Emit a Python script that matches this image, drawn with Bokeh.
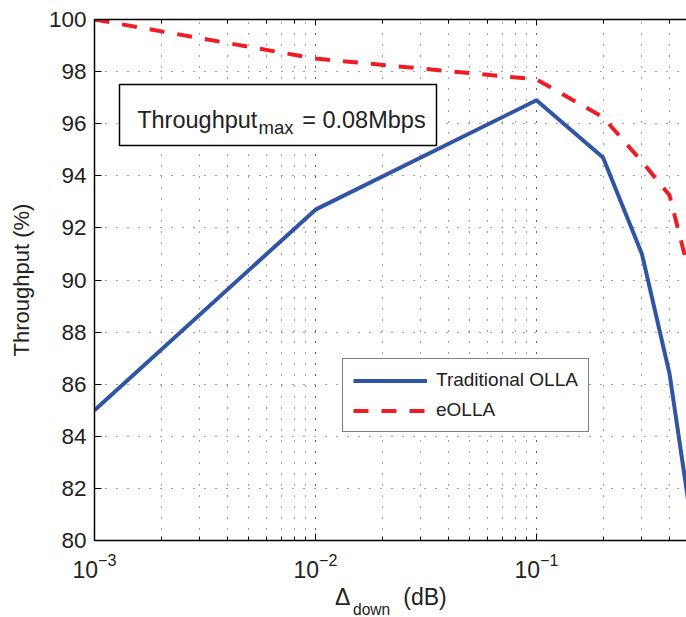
from bokeh.plotting import figure
from bokeh.layouts import column
from bokeh.models import (LogAxis, Range1d, Legend, LegendItem, Label, BoxAnnotation,
                          FixedTicker, LogTicker, CustomJSTickFormatter, Div)
from bokeh.embed import file_html
from bokeh.resources import INLINE

# ---- data ----
delta_down = [0.001, 0.01, 0.1, 0.2, 0.3, 0.4, 0.5]
traditional_olla = [85.0, 92.7, 96.9, 94.7, 91.0, 86.4, 80.8]
eolla = [100.0, 98.5, 97.7, 96.25, 94.55, 93.25, 90.0]
y_ticks = [80, 82, 84, 86, 88, 90, 92, 94, 96, 98, 100]
x_title_parts = ["\u0394", "down", "(dB)"]

FONT = "Liberation Sans"
BLUE = "#3155a5"
RED = "#ee1c25"
TXT = "#222222"

p = figure(width=686, height=584, x_axis_type="log",
           x_range=Range1d(0.001, 0.4773), y_range=Range1d(80, 100),
           output_backend="svg", toolbar_location=None,
           min_border_left=94, min_border_right=0, min_border_top=19,
           min_border_bottom=44)
p.outline_line_color = None
p.background_fill_color = "white"
p.border_fill_color = "white"

# grids
p.xgrid.grid_line_color = "#444444"
p.xgrid.grid_line_dash = "1 10"
p.xgrid.grid_line_width = 1
p.xgrid.minor_grid_line_color = "#444444"
p.xgrid.minor_grid_line_dash = "1 10"
p.ygrid.grid_line_color = "#444444"
p.ygrid.grid_line_dash = "1 10"
p.ygrid.ticker = FixedTicker(ticks=y_ticks)

# axes
for ax in [p.xaxis[0], p.yaxis[0]]:
    ax.axis_line_color = "black"
    ax.axis_line_width = 1.5
    ax.major_tick_line_color = "black"
    ax.minor_tick_line_color = "black"
    ax.major_tick_in = 7
    ax.major_tick_out = 0
    ax.minor_tick_in = 4
    ax.minor_tick_out = 0
    ax.major_label_text_font = FONT
    ax.major_label_text_font_size = "22.5px"
    ax.major_label_text_color = TXT

p.yaxis.ticker = FixedTicker(ticks=y_ticks)
p.yaxis.minor_tick_line_color = None
p.yaxis.major_label_standoff = 8
p.yaxis.axis_label = "Throughput (%)"
p.yaxis.axis_label_text_font = FONT
p.yaxis.axis_label_text_font_size = "22px"
p.yaxis.axis_label_text_font_style = "normal"
p.yaxis.axis_label_text_color = TXT
p.yaxis.axis_label_standoff = 12

p.xaxis.major_label_standoff = 12
p.xaxis.major_label_text_font_size = "23px"

top = LogAxis(ticker=LogTicker(), axis_line_color="black", axis_line_width=1.5,
              major_tick_in=6, major_tick_out=0, minor_tick_in=4, minor_tick_out=0,
              formatter=CustomJSTickFormatter(code="return ''"))
p.add_layout(top, "above")

# lines
r1 = p.line(delta_down, traditional_olla, line_color=BLUE, line_width=4,
            line_join="round")
r2 = p.line(delta_down, eolla, line_color=RED, line_width=4,
            line_dash="15 13", line_join="round")

legend = Legend(items=[LegendItem(label="Traditional OLLA", renderers=[r1]),
                       LegendItem(label="eOLLA", renderers=[r2])],
                location=(248, 108), border_line_color="black",
                border_line_width=1.5, background_fill_color="white",
                background_fill_alpha=1, label_text_font=FONT,
                label_text_font_size="19px", label_text_color=TXT,
                glyph_width=74, glyph_height=19, label_height=19,
                label_standoff=9, spacing=8, padding=10, margin=0)
p.add_layout(legend, "center")

# annotation box
box = BoxAnnotation(left=25, right=342, top=456, bottom=395,
                    left_units="screen", right_units="screen",
                    top_units="screen", bottom_units="screen",
                    fill_color="white", fill_alpha=1,
                    line_color="black", line_alpha=1, line_width=1.5)
p.add_layout(box)

def lab(text, x, y, size):
    l = Label(x=x, y=y, x_units="screen", y_units="screen", text=text,
              text_font=FONT, text_font_size=size, text_color=TXT,
              text_align="left", text_baseline="alphabetic")
    p.add_layout(l)

lab("Throughput", 42.7, 420.7, "23.5px")
lab("max", 164, 412.7, "18.5px")
lab("= 0.08Mbps", 207.7, 420.7, "23.5px")

# x axis title (with subscript) in a strip under the plot
span = ("<span style=\"position:absolute;left:{l}px;top:{t}px;font-size:{s}px;"
        "line-height:{s}px;white-space:nowrap\">{txt}</span>")
html = ("<div style=\"position:relative;width:686px;height:33px;"
        "font-family:'Liberation Sans';color:%s\">" % TXT
        + span.format(l=335, t=1.5, s=23, txt=x_title_parts[0])
        + span.format(l=353, t=17.8, s=15.6, txt=x_title_parts[1])
        + span.format(l=403.3, t=1.5, s=23, txt=x_title_parts[2])
        + "</div>")
t = Div(text=html, width=686, height=33, margin=0)

layout = column(p, t, spacing=0)
open("out.html", "w").write(file_html(layout, INLINE))
